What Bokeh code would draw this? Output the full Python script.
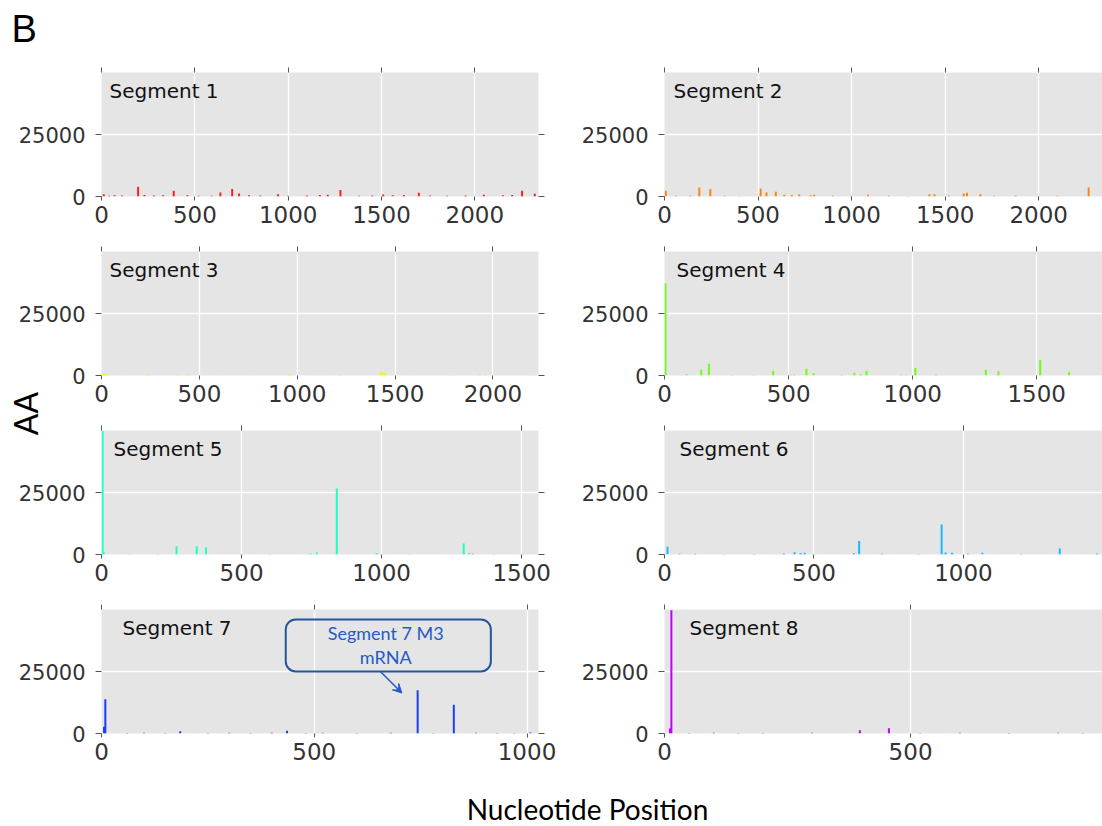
import math
from bokeh.plotting import figure
from bokeh.models import (Range1d, FixedTicker, LinearAxis, Label, BoxAnnotation,
                          Arrow, VeeHead, CustomJSTickFormatter)
from bokeh.layouts import column, row
from bokeh.embed import file_html
from bokeh.resources import INLINE

# ---------------- data ----------------
segment_names = ["Segment 1", "Segment 2", "Segment 3", "Segment 4",
                 "Segment 5", "Segment 6", "Segment 7", "Segment 8"]
segment_lengths = [2341, 2341, 2233, 1765, 1560, 1465, 1027, 890]
colors = ["#ff1f1f", "#ff8410", "#f5f500", "#6cff10",
          "#20ffc0", "#1ab8ff", "#1a3cff", "#c000ff"]

seg1_pos = [12, 40, 70, 110, 196, 230, 280, 330, 387, 460, 520, 590, 637, 700, 737, 790,
            850, 946, 1000, 1100, 1170, 1212, 1280, 1380, 1450, 1509, 1560, 1620, 1700,
            1760, 1850, 1950, 2048, 2150, 2200, 2253, 2321]
seg1_aa = [900, 300, 500, 400, 3900, 600, 400, 500, 2300, 500, 300, 300, 1600, 3000, 1200, 500,
           400, 950, 300, 400, 600, 700, 2600, 300, 400, 800, 500, 600, 1500,
           400, 300, 400, 700, 500, 600, 2300, 1100]

seg2_pos = [7, 60, 138, 186, 245, 320, 400, 514, 545, 595, 640, 680, 720, 780, 800, 900,
            998, 1088, 1200, 1300, 1416, 1443, 1520, 1599, 1617, 1688, 1760, 1876, 2000,
            2100, 2267]
seg2_aa = [2300, 300, 300, 3650, 3000, 300, 200, 3250, 1600, 1900, 700, 600, 800, 500, 700, 300,
           300, 700, 300, 200, 950, 950, 400, 1200, 1500, 950, 300, 400, 200,
           300, 3650]

seg3_pos = [12, 29, 120, 233, 389, 445, 600, 785, 960, 1119, 1220, 1427, 1440, 1450, 1600,
            1800, 1932, 1964, 2201]
seg3_aa = [700, 600, 200, 400, 300, 300, 200, 200, 500, 200, 400, 1350, 1200, 1000, 200,
           200, 400, 400, 200]

seg4_pos = [4, 89, 148, 179, 270, 359, 438, 507, 523, 572, 601, 714, 765, 790, 814, 954,
            974, 1011, 1094, 1295, 1346, 1514, 1630]
seg4_aa = [37200, 540, 2300, 4700, 200, 200, 1900, 400, 300, 2700, 950, 300, 1100, 500, 1900, 200,
           200, 3000, 300, 2300, 1750, 6300, 1350]

seg5_pos = [4, 8, 100, 200, 268, 340, 373, 500, 600, 747, 769, 840, 982, 1100, 1293, 1313,
            1325, 1400, 1506]
seg5_aa = [49800, 900, 200, 200, 3350, 3350, 2800, 200, 200, 400, 800, 26600, 600, 200, 4400, 600,
           500, 200, 300]

seg6_pos = [10, 50, 103, 200, 300, 399, 435, 455, 469, 634, 651, 727, 850, 927, 940, 962,
            1015, 1063, 1193, 1322, 1447]
seg6_aa = [3100, 300, 300, 200, 200, 400, 950, 600, 700, 500, 5400, 300, 200, 12100, 800, 700,
           300, 700, 200, 2400, 400]

seg7_pos = [6, 9, 60, 100, 150, 185, 250, 300, 350, 400, 436, 480, 520, 600, 680, 743, 780,
            828, 880, 930, 970, 1008]
seg7_aa = [2700, 13800, 200, 300, 200, 950, 200, 300, 200, 300, 1100, 200, 300, 200, 300, 17400, 200,
           11600, 300, 200, 200, 400]

seg8_pos = [11, 14, 50, 100, 150, 200, 300, 397, 456, 520, 600, 700, 800, 850]
seg8_aa = [2000, 49700, 200, 300, 200, 200, 300, 1350, 2150, 200, 300, 200, 300, 200]

x_ticks = [0, 500, 1000, 1500, 2000]
y_ticks = [0, 25000]
y_max = 50000

annotation_text = "Segment 7 M3\nmRNA"
annotation_box_x = [433, 915]
annotation_box_y = [25000, 46000]
annotation_text_xy = (668, 35600)
annotation_arrow = (656, 24900, 706, 16300)

panel_pos = [seg1_pos, seg2_pos, seg3_pos, seg4_pos, seg5_pos, seg6_pos, seg7_pos, seg8_pos]
panel_aa = [seg1_aa, seg2_aa, seg3_aa, seg4_aa, seg5_aa, seg6_aa, seg7_aa, seg8_aa]

# ---------------- layout constants ----------------
W = 1102
LEFT_W, RIGHT_W = 564, 538
ROW_H, FRAME_H, BT = 179, 124, 14
BB = ROW_H - BT - FRAME_H
TOP_H, BOTTOM_H = 58, 52
label_off_px = [8, 9, 8, 12, 12, 15, 21, 25]
TICK_FONT = "DejaVu Sans"
BLUE = "#1f5cc4"
BLANK = CustomJSTickFormatter(code="return ''")


def make_panel(k, is_left):
    L = segment_lengths[k]
    w = LEFT_W if is_left else RIGHT_W
    bl = 101 if is_left else 100
    br = 26 if is_left else 0
    p = figure(width=w, height=ROW_H,
               x_range=Range1d(0, L), y_range=Range1d(0, y_max),
               output_backend="svg", toolbar_location=None,
               min_border_left=bl, min_border_right=br,
               min_border_top=BT, min_border_bottom=BB,
               background_fill_color="#e5e5e5", border_fill_color=None,
               outline_line_color=None)
    p.segment(x0=panel_pos[k], y0=[0] * len(panel_pos[k]), x1=panel_pos[k], y1=panel_aa[k],
              line_color=colors[k], line_width=2)
    xt = [t for t in x_ticks if t <= L]
    p.xaxis.ticker = FixedTicker(ticks=xt)
    p.yaxis.ticker = FixedTicker(ticks=y_ticks)
    for ax, size, out in ((p.xaxis, "23px", 4), (p.yaxis, "21px", 6)):
        ax.axis_line_color = None
        ax.major_tick_line_color = "#555555"
        ax.major_tick_out = out
        ax.major_tick_in = 0
        ax.minor_tick_line_color = None
        ax.major_label_text_font = TICK_FONT
        ax.major_label_text_font_size = size
        ax.major_label_text_color = "#333333"
    p.xaxis.major_label_standoff = 5
    p.yaxis.major_label_standoff = 10
    p.grid.grid_line_color = "white"
    p.grid.grid_line_width = 1.3
    top_ax = LinearAxis(ticker=FixedTicker(ticks=xt), formatter=BLANK,
                        major_label_standoff=0, axis_line_color=None, major_tick_out=5,
                        major_tick_in=0, minor_tick_line_color=None,
                        major_tick_line_color="#555555")
    p.add_layout(top_ax, "above")
    if is_left:
        r_ax = LinearAxis(ticker=FixedTicker(ticks=y_ticks), formatter=BLANK,
                          major_label_standoff=0, axis_line_color=None, major_tick_out=6,
                          major_tick_in=0, minor_tick_line_color=None,
                          major_tick_line_color="#555555")
        p.add_layout(r_ax, "right")
    frame_w = w - bl - br
    lab = Label(x=label_off_px[k] / frame_w * L, y=y_max * (1 - 18.5 / FRAME_H),
                text=segment_names[k], text_font=TICK_FONT, text_font_size="20px",
                text_baseline="middle", text_color="#111111")
    p.add_layout(lab)
    return p


figs = [make_panel(k, k % 2 == 0) for k in range(8)]

# Segment 7 annotation
p7 = figs[6]
box = BoxAnnotation(left=annotation_box_x[0], right=annotation_box_x[1],
                    bottom=annotation_box_y[0], top=annotation_box_y[1],
                    fill_color=None, fill_alpha=0, line_color="#22549f", line_alpha=1.0,
                    line_width=2, border_radius=10)
p7.add_layout(box)
p7.add_layout(Label(x=annotation_text_xy[0], y=annotation_text_xy[1], text=annotation_text,
                    text_align="center", text_baseline="middle", text_font="Lato",
                    text_font_size="18px", text_color=BLUE, text_line_height=1.1))
p7.add_layout(Arrow(x_start=annotation_arrow[0], y_start=annotation_arrow[1],
                    x_end=annotation_arrow[2], y_end=annotation_arrow[3],
                    line_color=BLUE, line_width=1.5,
                    end=VeeHead(size=9, fill_color=BLUE, line_color=BLUE)))

# small overlay strip carrying the rotated "AA" axis title (as an axis label)
AA_W, AA_H = 70, 60
aa_fig = figure(width=AA_W, height=AA_H, x_range=Range1d(0, 1), y_range=Range1d(0, 1),
                output_backend="svg", toolbar_location=None, x_axis_type=None,
                min_border=0, min_border_left=33, outline_line_color=None,
                border_fill_color=None, background_fill_color=None)
aa_fig.grid.visible = False
aa_fig.yaxis.ticker = FixedTicker(ticks=[])
aa_fig.yaxis.formatter = BLANK
aa_fig.yaxis.major_tick_out = 0
aa_fig.yaxis.major_tick_in = 0
aa_fig.yaxis.minor_tick_line_color = None
aa_fig.yaxis.axis_line_color = None
aa_fig.yaxis.major_label_standoff = 0
aa_fig.yaxis.axis_label = "AA"
aa_fig.yaxis.axis_label_standoff = 0
aa_fig.yaxis.axis_label_text_font = "Lato"
aa_fig.yaxis.axis_label_text_font_size = "32px"
aa_fig.yaxis.axis_label_text_font_style = "normal"
aa_fig.yaxis.axis_label_text_color = "#000000"
aa_fig.margin = (-33, 0, -27, 0)

# top strip with "B"
top = figure(width=W, height=TOP_H, x_range=Range1d(0, W), y_range=Range1d(TOP_H, 0),
             output_backend="svg", toolbar_location=None, x_axis_type=None, y_axis_type=None,
             min_border=0, outline_line_color=None)
top.grid.visible = False
top.add_layout(Label(x=11, y=28, text="B", text_baseline="middle",
                     text_font="Liberation Sans", text_font_size="38px", text_color="#000000"))

# bottom strip with x label
bottom = figure(width=W, height=BOTTOM_H, x_range=Range1d(0, W), y_range=Range1d(BOTTOM_H, 0),
                output_backend="svg", toolbar_location=None, x_axis_type=None, y_axis_type=None,
                min_border=0, outline_line_color=None)
bottom.grid.visible = False
bottom.add_layout(Label(x=587, y=34, text="Nucleotide Position", text_align="center",
                        text_baseline="middle", text_font="Lato", text_font_size="28px",
                        text_color="#000000"))

left_col = column(figs[0], figs[2], aa_fig, figs[4], figs[6])
right_col = column(figs[1], figs[3], figs[5], figs[7])
page = column(top, row(left_col, right_col), bottom)

open("out.html", "w").write(file_html(page, INLINE))
